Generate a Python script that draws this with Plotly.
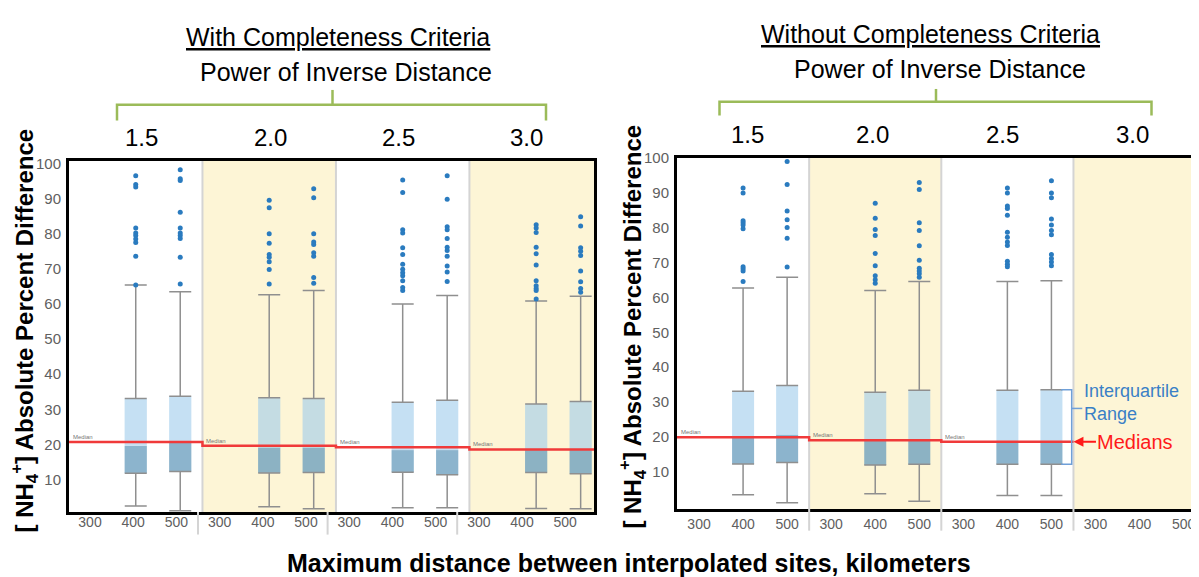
import plotly.graph_objects as go

# page body has an 8px margin: the figure is sized and positioned to compensate
OX, OY = 8, 8
W, H = 1199 - OX, 577 - OY

# ---------------- data ----------------
distances = ["300", "400", "500"]
powers = ["1.5", "2.0", "2.5", "3.0"]

# With completeness criteria (left panel)
left_power = ["1.5", "1.5", "2.0", "2.0", "2.5", "2.5", "3.0", "3.0"]
left_dist = ["400", "500", "400", "500", "400", "500", "400", "500"]
left_q1 = [11.8, 12.3, 11.9, 12.0, 12.1, 11.4, 12.0, 11.7]
left_med = [19.6, 20.6, 19.1, 19.1, 18.4, 18.4, 18.4, 18.4]
left_q3 = [33.1, 33.7, 33.3, 33.1, 32.0, 32.6, 31.5, 32.2]
left_lo = [2.5, 1.1, 2.3, 1.7, 2.0, 2.0, 1.8, 1.7]
left_hi = [65.4, 63.5, 62.6, 63.8, 60.0, 62.4, 60.8, 62.2]
left_out = [
    [96.5, 94.0, 93.3, 81.6, 80.2, 79.5, 78.5, 77.5, 73.6, 65.4],
    [98.2, 95.6, 95.1, 86.1, 81.6, 80.2, 79.5, 78.6, 73.3, 65.7],
    [89.5, 87.4, 80.0, 77.3, 74.1, 73.3, 72.0, 69.8, 65.7],
    [92.8, 90.2, 80.0, 77.6, 76.9, 74.6, 73.6, 67.5, 65.9],
    [95.3, 91.7, 81.1, 80.2, 76.0, 74.1, 71.3, 69.9, 68.9, 68.0, 66.6, 64.7, 63.8],
    [96.5, 89.8, 82.0, 81.1, 78.6, 76.1, 75.2, 73.6, 70.8, 69.1, 66.4],
    [82.5, 81.6, 80.3, 76.1, 74.3, 71.1, 66.6, 65.2, 64.4, 63.8, 61.4],
    [84.8, 82.2, 76.0, 75.0, 73.8, 69.4, 66.3, 64.4, 63.3],
]
left_median_line = [20.7, 19.6, 19.2, 18.6]

# Without completeness criteria (right panel)
right_power = ["1.5", "1.5", "2.0", "2.0", "2.5", "2.5"]
right_dist = ["400", "500", "400", "500", "400", "500"]
right_q1 = [12.2, 12.6, 11.9, 12.1, 12.1, 12.1]
right_med = [19.7, 20.6, 19.1, 19.1, 18.5, 18.5]
right_q3 = [33.1, 34.7, 32.8, 33.4, 33.4, 33.5]
right_lo = [3.4, 1.1, 3.7, 1.5, 3.2, 3.2]
right_hi = [62.7, 65.8, 62.0, 64.6, 64.6, 64.8]
right_out = [
    [91.4, 90.0, 82.0, 81.4, 80.8, 79.7, 68.8, 68.2, 67.6, 64.6],
    [99.0, 92.4, 84.8, 82.3, 80.1, 77.0, 68.7],
    [87.0, 82.7, 79.5, 77.8, 72.6, 69.1, 66.2, 65.1, 64.1],
    [93.0, 91.0, 81.4, 79.2, 74.8, 70.7, 68.4, 67.6, 66.8, 65.8],
    [91.4, 90.0, 86.2, 85.5, 83.6, 78.7, 77.3, 75.9, 74.9, 70.4, 69.5, 68.8],
    [93.5, 90.0, 88.6, 82.5, 80.8, 79.2, 78.0, 72.3, 71.2, 70.2, 69.1],
]
right_median_line = [19.9, 19.0, 18.6]

y_ticks = [10, 20, 30, 40, 50, 60, 70, 80, 90, 100]
x_labels = distances * len(powers)

# ---------------- styles ----------------
FONT = "Liberation Sans, Arial, sans-serif"
DARK = "rgba(104,157,189,0.76)"
LIGHT = "rgba(160,204,235,0.61)"
WHISK = "#8f8f8f"
DOT = "#2a7bbf"
RED = "#f03a3a"
YELLOW = "#fdf5d6"
DIV = "#d4d4d4"
GREEN = "#9bbb59"

L_RANGE_Y = [0.8, 100.7]
R_RANGE_Y = [-0.7, 100.1]
L_RANGE_X = [-0.5, 11.3]
R_RANGE_X = [-0.5, 11.35]


def px(x):
    return (x - OX) / W


def py(y):
    return 1 - (y - OY) / H


fig = go.Figure()
shapes = []
annotations = []


def add_panel(xa, ya, p_list, d_list, q1, med, q3, lo, hi, outl, medline, yr):
    xs = [powers.index(p) * 3 + distances.index(d) for p, d in zip(p_list, d_list)]
    n = len(xs)
    for i in range(len(powers)):
        if i % 2 == 1:
            shapes.append(dict(type="rect", xref=xa, yref=ya, x0=3 * i - 0.5, x1=3 * i + 2.5,
                               y0=yr[0], y1=yr[1], fillcolor=YELLOW, line_width=0, layer="below"))
    for i in range(len(powers) - 1):
        shapes.append(dict(type="line", xref=xa, yref=ya, x0=3 * i + 2.5, x1=3 * i + 2.5,
                           y0=yr[0], y1=yr[1], line=dict(color=DIV, width=2), layer="below"))
    fig.add_trace(go.Bar(x=xs, y=[m - a for m, a in zip(med, q1)], base=q1, width=0.5,
                         marker=dict(color=DARK, line_width=0), xaxis=xa, yaxis=ya,
                         showlegend=False, hoverinfo="skip"))
    fig.add_trace(go.Bar(x=xs, y=[b - m for b, m in zip(q3, med)], base=med, width=0.5,
                         marker=dict(color=LIGHT, line_width=0), xaxis=xa, yaxis=ya,
                         showlegend=False, hoverinfo="skip"))
    fig.add_trace(go.Scatter(x=xs, y=q3, mode="markers", marker=dict(size=1, opacity=0),
                             error_y=dict(type="data", symmetric=False,
                                          array=[h - b for h, b in zip(hi, q3)],
                                          arrayminus=[0] * n, color=WHISK, thickness=1.5, width=11),
                             xaxis=xa, yaxis=ya, showlegend=False, hoverinfo="skip"))
    fig.add_trace(go.Scatter(x=xs, y=q1, mode="markers", marker=dict(size=1, opacity=0),
                             error_y=dict(type="data", symmetric=False, array=[0] * n,
                                          arrayminus=[a - l for a, l in zip(q1, lo)],
                                          color=WHISK, thickness=1.5, width=11),
                             xaxis=xa, yaxis=ya, showlegend=False, hoverinfo="skip"))
    ox, oy = [], []
    for x, o in zip(xs, outl):
        ox += [x] * len(o)
        oy += o
    fig.add_trace(go.Scatter(x=ox, y=oy, mode="markers", marker=dict(color=DOT, size=5),
                             xaxis=xa, yaxis=ya, showlegend=False, hoverinfo="skip"))
    sx = [3 * i - 0.5 for i in range(len(medline))] + [3 * len(medline) - 0.5]
    sy = medline + [medline[-1]]
    fig.add_trace(go.Scatter(x=sx, y=sy, mode="lines", line=dict(color=RED, width=2.5, shape="hv"),
                             xaxis=xa, yaxis=ya, showlegend=False, hoverinfo="skip"))
    for i, m in enumerate(medline):
        annotations.append(dict(xref=xa, yref=ya, x=3 * i - 0.5, y=m, text="Median", showarrow=False,
                                xanchor="left", yanchor="bottom", xshift=2,
                                font=dict(size=6, color="#777", family=FONT)))


add_panel("x", "y", left_power, left_dist, left_q1, left_med, left_q3, left_lo, left_hi,
          left_out, left_median_line, L_RANGE_Y)
add_panel("x2", "y2", right_power, right_dist, right_q1, right_med, right_q3, right_lo, right_hi,
          right_out, right_median_line, R_RANGE_Y)

fig.add_trace(go.Scatter(x=[0], y=[None], xaxis="x3", yaxis="y", mode="markers",
                         showlegend=False, hoverinfo="skip"))

for i in range(len(powers) - 1):
    shapes.append(dict(type="line", xref="x3", yref="paper", x0=3 * i + 2.5, x1=3 * i + 2.5,
                       y0=py(511), y1=py(534), line=dict(color=DIV, width=2)))
    shapes.append(dict(type="line", xref="x2", yref="paper", x0=3 * i + 2.5, x1=3 * i + 2.5,
                       y0=py(508), y1=py(530), line=dict(color=DIV, width=2)))

# green brackets
shapes.append(dict(type="path", xref="paper", yref="paper",
                   path=f"M{px(117)},{py(114)} L{px(117)},{py(98)} L{px(546)},{py(98)} L{px(546)},{py(114)}",
                   line=dict(color=GREEN, width=2.5)))
shapes.append(dict(type="line", xref="paper", yref="paper", x0=px(332.5), x1=px(332.5),
                   y0=py(98), y1=py(83), line=dict(color=GREEN, width=2.5)))
shapes.append(dict(type="path", xref="paper", yref="paper",
                   path=f"M{px(719.5)},{py(109)} L{px(719.5)},{py(95)} L{px(1151.5)},{py(95)} L{px(1151.5)},{py(109)}",
                   line=dict(color=GREEN, width=2.5)))
shapes.append(dict(type="line", xref="paper", yref="paper", x0=px(936), x1=px(936),
                   y0=py(95), y1=py(82), line=dict(color=GREEN, width=2.5)))

# IQR bracket on last right box
k = len(right_q3) - 1
xb = powers.index(right_power[k]) * 3 + distances.index(right_dist[k])
shapes.append(dict(type="path", xref="x2", yref="y2",
                   path=(f"M{xb + 0.22},{right_q3[k]} L{xb + 0.46},{right_q3[k]} "
                         f"L{xb + 0.46},{right_q1[k]} L{xb + 0.22},{right_q1[k]}"),
                   line=dict(color="#6f9fd8", width=1.5)))
ymid = right_q3[k] - (right_q3[k] - right_q1[k]) * 0.25
shapes.append(dict(type="line", xref="x2", yref="y2", x0=xb + 0.46, x1=xb + 0.7, y0=ymid, y1=ymid,
                   line=dict(color="#6f9fd8", width=1.5)))

annotations.append(dict(xref="paper", yref="paper", x=px(1082), y=py(400),
                        text="Interquartile<br>Range", showarrow=False, xanchor="left",
                        yanchor="middle", align="left",
                        font=dict(size=18, color="#3a80c6", family=FONT)))
annotations.append(dict(xref="x2", yref="y2", x=xb + 0.5, y=right_median_line[-1],
                        text="Medians", showarrow=True, arrowhead=2, arrowsize=1, arrowwidth=2,
                        arrowcolor="#ff1a1a", ax=62, ay=0,
                        font=dict(size=20, color="#ff1a1a", family=FONT)))


def label(x, y, text, size, bold=False, angle=0):
    annotations.append(dict(xref="paper", yref="paper", x=px(x), y=py(y),
                            text=f"<b>{text}</b>" if bold else text, showarrow=False,
                            xanchor="center", yanchor="middle", textangle=angle,
                            font=dict(size=size, color="black", family=FONT)))


label(338, 29, "<u>With Completeness Criteria</u>", 25)
label(930, 26, "<u>Without Completeness Criteria</u>", 25)
label(346, 65, "Power of Inverse Distance", 25)
label(940, 62, "Power of Inverse Distance", 25)

left_pw_x = [141.7, 270, 398, 526.6]
right_pw_x = [747.5, 872, 1002, 1132]
for p, lx, rx in zip(powers, left_pw_x, right_pw_x):
    label(lx, 131, p, 24)
    label(rx, 128, p, 24)

ytitle = "[ NH<sub>4</sub><sup>+</sup>] Absolute Percent Difference"
label(24, 327, ytitle, 24, bold=True, angle=-90)
label(632, 323, ytitle, 24, bold=True, angle=-90)
label(629, 563, "Maximum distance between interpolated sites, kilometers", 25, bold=True)

tickfont = dict(size=14, color="#606060", family=FONT)
ytickfont = dict(size=15, color="#606060", family=FONT)
yax = dict(tickvals=y_ticks, ticks="", showgrid=False, zeroline=False, showline=True,
           linecolor="black", linewidth=3, tickfont=ytickfont, ticklabelstandoff=2)

fig.update_layout(
    width=W, height=H, margin=dict(l=0, r=0, t=0, b=0),
    paper_bgcolor="white", plot_bgcolor="rgba(0,0,0,0)",
    barmode="overlay", showlegend=False,
    xaxis=dict(domain=[px(69), px(594)], range=L_RANGE_X, anchor="y", showticklabels=False, ticks="",
               showgrid=False, zeroline=False, showline=True, mirror=True, linecolor="black", linewidth=3),
    yaxis=dict(yax, domain=[py(511), py(155)], range=L_RANGE_Y, anchor="x", mirror=True),
    xaxis2=dict(domain=[px(677), 1], range=R_RANGE_X, anchor="y2", tickvals=list(range(12)),
                ticktext=x_labels, ticks="", showgrid=False, zeroline=False, showline=True, mirror=True,
                linecolor="black", linewidth=3, tickfont=tickfont),
    yaxis2=dict(yax, domain=[py(508), py(151.7)], range=R_RANGE_Y, anchor="x2", mirror=False),
    xaxis3=dict(domain=[px(68.4), px(586.8)], range=[-0.5, 11.5], anchor="y", tickvals=list(range(12)),
                ticktext=x_labels, ticks="", showgrid=False, zeroline=False, showline=False,
                tickfont=tickfont),
    shapes=shapes, annotations=annotations,
)

fig.write_html("out.html")
